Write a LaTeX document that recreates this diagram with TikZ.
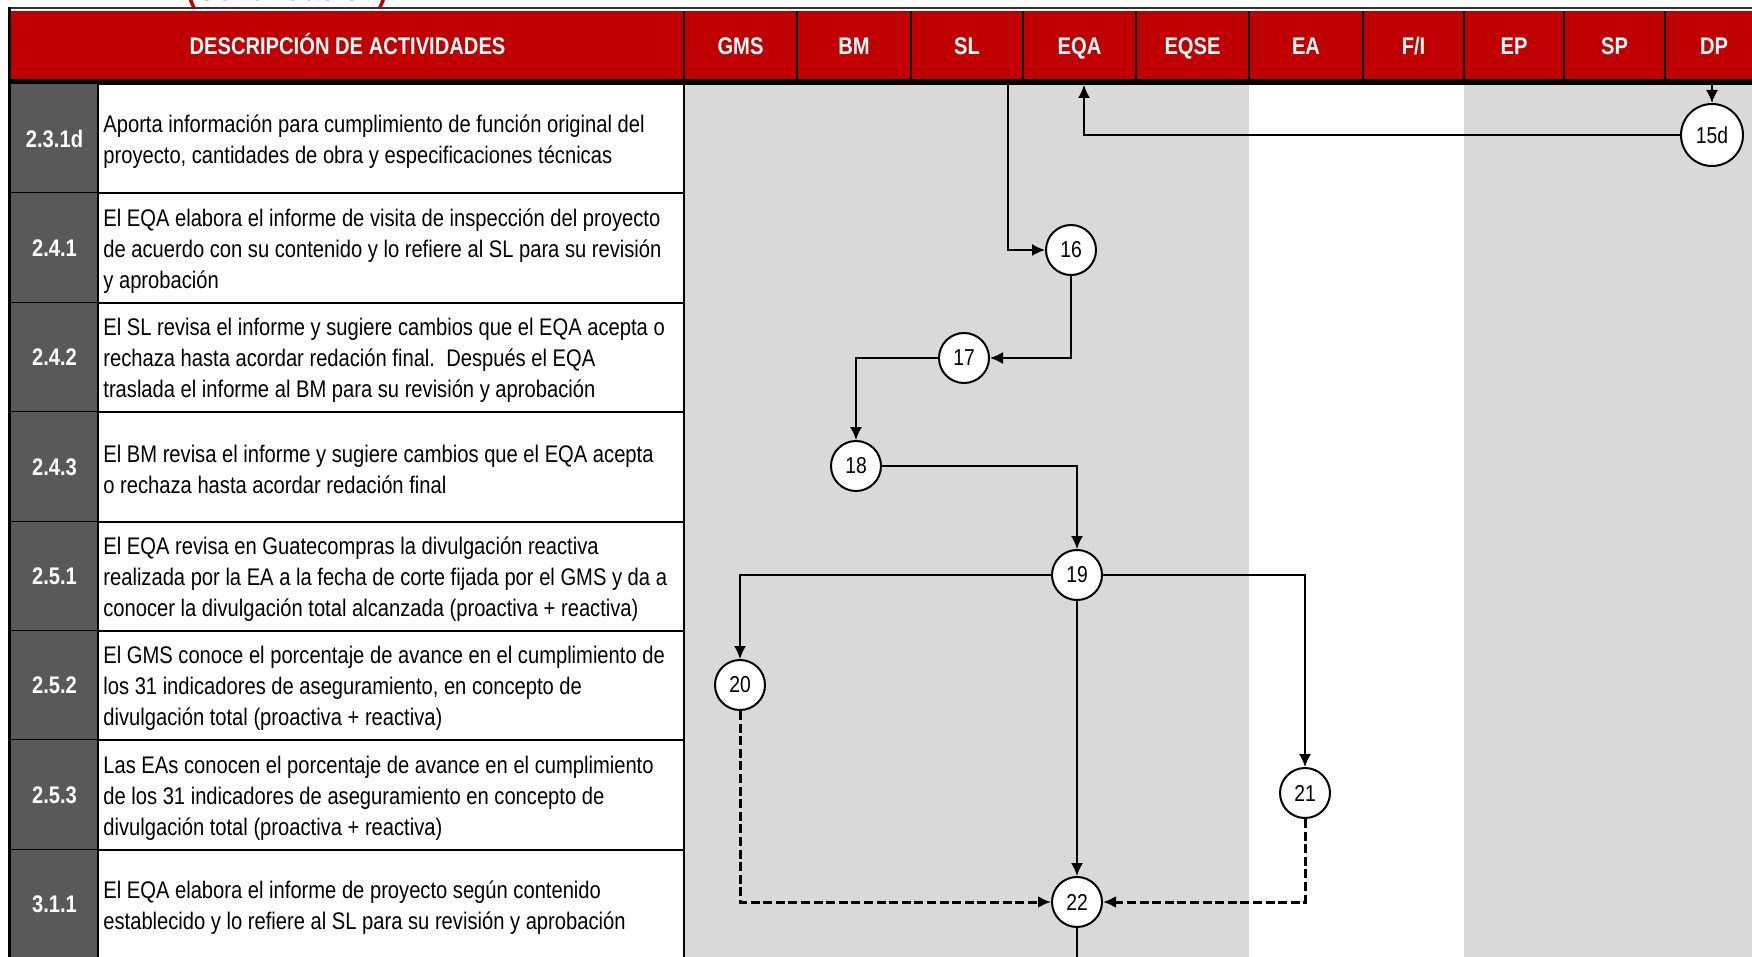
\documentclass[tikz,border=0pt]{standalone}
\usepackage{fontspec}
\setmainfont{Liberation Sans}[FakeStretch=0.84]
\usepackage{xcolor}
\usepackage{tikz}
\usetikzlibrary{positioning}
\usetikzlibrary{arrows.meta}
\pgfdeclarelayer{fondo}
\pgfsetlayers{fondo,main}
\definecolor{rojo}{HTML}{C00000}
\definecolor{carril}{HTML}{D9D9D9}
\definecolor{oscuro}{HTML}{595959}
\tikzset{
    paso/.style = {circle, draw, line width=1pt, fill=white, minimum size=25pt, inner sep=0pt, font=\fontsize{11.5}{12}\selectfont},
    flujo/.style = {line width=0.75pt, -{Latex[length=6.5pt,width=6pt]}},
    flujodash/.style = {line width=1.5pt, dash pattern=on 4.5pt off 1.8pt, -{Latex[length=6.5pt,width=6pt]}},
    encab/.style = {anchor=base, text=white, font=\bfseries\fontsize{12}{13}\selectfont},
    codigo/.style = {text=white, font=\bfseries\fontsize{12}{14}\selectfont},
    desc/.style = {anchor=west, align=left, inner sep=1pt, font=\fontsize{12}{15.5}\selectfont}
}

\begin{document}
\begin{tikzpicture}[x=0.5pt, y=-0.5pt]
  \useasboundingbox (0,0) rectangle (1752,957);
  \clip (0,0) rectangle (1752,957);
  \begin{pgfonlayer}{fondo}
    \fill[carril] (684,84) rectangle (1249,960);
    \fill[carril] (1464,84) rectangle (1752,960);
  \end{pgfonlayer}
  \node[anchor=base, text=rojo, font=\bfseries\fontsize{17}{20}\selectfont] (titulo) at (287,1) {(Continuación)};
  \draw[black!80, line width=1pt] (8,8) -- (1752,8);
  \fill[rojo] (11,11) rectangle (1752,80);
  \node[encab] (hdesc) at (347.5,55) {DESCRIPCIÓN DE ACTIVIDADES};
  \foreach \nom/\txt/\xa/\xb in {gms/GMS/684/797, bm/BM/797/911, sl/SL/911/1023, eqa/EQA/1023/1136,
      eqse/EQSE/1136/1249, ea/EA/1249/1363, fi/F\slash I/1363/1464, ep/EP/1464/1564,
      sp/SP/1564/1665, dp/DP/1665/1763} {
    \draw[line width=0.6pt] (\xa,11) -- (\xa,80);
    \node[encab] (h\nom) at ({(\xa+\xb)/2},55) {\txt};
  }
  \draw[line width=3pt] (8,82.5) -- (1752,82.5);

  \foreach \i/\cod/\txt in {
      0/2.3.1d/{Aporta información para cumplimiento de función original del\\proyecto, cantidades de obra y especificaciones técnicas},
      1/2.4.1/{El EQA elabora el informe de visita de inspección del proyecto\\de acuerdo con su contenido y lo refiere al SL para su revisión\\y aprobación},
      2/2.4.2/{El SL revisa el informe y sugiere cambios que el EQA acepta o\\rechaza hasta acordar redación final.\ \ Después el EQA\\traslada el informe al BM para su revisión y aprobación},
      3/2.4.3/{El BM revisa el informe y sugiere cambios que el EQA acepta\\o rechaza hasta acordar redación final},
      4/2.5.1/{El EQA revisa en Guatecompras la divulgación reactiva\\realizada por la EA a la fecha de corte fijada por el GMS y da a\\conocer la divulgación total alcanzada (proactiva + reactiva)},
      5/2.5.2/{El GMS conoce el porcentaje de avance en el cumplimiento de\\los 31 indicadores de aseguramiento, en concepto de\\divulgación total (proactiva + reactiva)},
      6/2.5.3/{Las EAs conocen el porcentaje de avance en el cumplimiento\\de los 31 indicadores de aseguramiento en concepto de\\divulgación total (proactiva + reactiva)},
      7/3.1.1/{El EQA elabora el informe de proyecto según contenido\\establecido y lo refiere al SL para su revisión y aprobación}} {
    \fill[oscuro] (11,{84+109.4*\i}) rectangle (98,{84+109.4*(\i+1)});
    \node[codigo] (c\i) at (54.5,{84+109.4*(\i+0.5)}) {\cod};
    \node[desc] (d\i) at (101,{87+109.4*(\i+0.5)}) {\txt};
    \draw[line width=1pt] (9.5,{84+109.4*(\i+1)}) -- (684,{84+109.4*(\i+1)});
  }
  \draw[line width=1pt] (98,84) -- (98,960);
  \draw[line width=1pt] (684,84) -- (684,960);
  \draw[line width=1.5pt] (9.5,7.5) -- (9.5,960);

  \node[paso, minimum size=31pt] (p15d) at (1712,135) {15d};
  \node[paso] (p16) at (1071,250) {16};
  \node[paso] (p17) at (964,358) {17};
  \node[paso] (p18) at (856,466) {18};
  \node[paso] (p19) at (1077,575) {19};
  \node[paso] (p20) at (740,685) {20};
  \node[paso] (p21) at (1305,793) {21};
  \node[paso] (p22) at (1077,902) {22};
  \coordinate (dpTop) at (1712,85);
  \coordinate (eqaTop) at (1084,85);
  \coordinate (slTop) at (1008,85);
  \coordinate (eqaBot) at (1077,960);

  \draw[flujo] (dpTop) -- (p15d);
  \draw[flujo] (p15d.west) -| (eqaTop);
  \draw[flujo] (slTop) |- (p16.west);
  \draw[flujo] (p16.south) |- (p17.east);
  \draw[flujo] (p17.west) -| (p18.north);
  \draw[flujo] (p18.east) -| (p19.north);
  \draw[flujo] (p19.west) -| (p20.north);
  \draw[flujo] (p19.east) -| (p21.north);
  \draw[flujo] (p19.south) -- (p22.north);
  \draw[flujodash] (p20.south) |- (p22.west);
  \draw[flujodash] (p21.south) |- (p22.east);
  \draw[line width=0.75pt] (p22.south) -- (eqaBot);
\end{tikzpicture}
\end{document}
